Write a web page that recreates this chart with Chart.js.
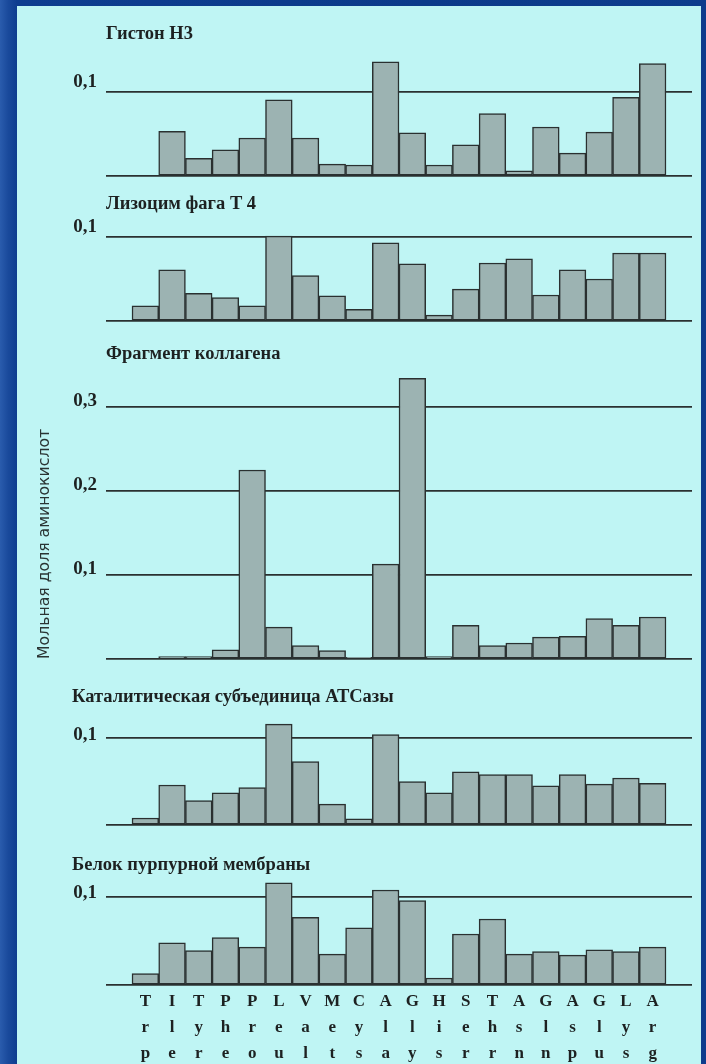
<!DOCTYPE html>
<html lang="ru">
<head>
<meta charset="utf-8">
<title>Аминокислотный состав белков</title>
<script src="https://cdn.jsdelivr.net/npm/chart.js@4.4.1/dist/chart.umd.min.js"></script>
<style>
  html, body { margin: 0; padding: 0; width: 706px; height: 1064px; overflow: hidden; }
  body {
    position: relative;
    background: linear-gradient(90deg, #2a5cad 0px, #1a4a9c 8px, #0e3d8f 17px, #0b3a89 60%, #0d3c8c 100%);
  }
  #sheet { position: absolute; left: 17px; top: 6px; right: 5px; bottom: 0; background: #bff5f4; }
  .panel { position: absolute; left: 0; }
</style>
</head>
<body>
<div id="sheet"></div>
<script>
// Amino acids along the horizontal axis (three-letter codes, drawn one letter per line)
const aminoAcids = ['Trp','Ile','Tyr','Phe','Pro','Leu','Val','Met','Cys','Ala',
                    'Gly','His','Ser','Thr','Asn','Gln','Asp','Glu','Lys','Arg'];

// Mole fraction of each amino acid, same order as aminoAcids
const histoneH3        = [0.000,0.053,0.021,0.031,0.045,0.090,0.045,0.014,0.013,0.135,
                          0.051,0.013,0.037,0.074,0.006,0.058,0.027,0.052,0.093,0.133];
const lysozymeT4       = [0.018,0.061,0.033,0.028,0.018,0.101,0.054,0.030,0.014,0.093,
                          0.068,0.007,0.038,0.069,0.074,0.031,0.061,0.050,0.081,0.081];
const collagenFragment = [0.000,0.003,0.003,0.011,0.225,0.038,0.016,0.010,0.002,0.113,
                          0.334,0.003,0.040,0.016,0.019,0.026,0.027,0.048,0.040,0.050];
const atcaseCatalytic  = [0.008,0.046,0.028,0.037,0.043,0.116,0.073,0.024,0.007,0.104,
                          0.050,0.037,0.061,0.058,0.058,0.045,0.058,0.047,0.054,0.048];
const purpleMembrane   = [0.013,0.048,0.039,0.054,0.043,0.116,0.077,0.035,0.065,0.108,
                          0.096,0.008,0.058,0.075,0.035,0.038,0.034,0.040,0.038,0.043];

// Gridline values on the vertical axis
const yTickValues = [0, 0.1, 0.2, 0.3];

// Panel text and placement
const panels = [
  { title: 'Гистон Н3',                          data: histoneH3,        titleY: 34,  baseline: 176, pxPerUnit: 845, fullTitle: false, padLeft: 30, labelOffset: -9 },
  { title: 'Лизоцим фага Т 4',                   data: lysozymeT4,       titleY: 204, baseline: 321, pxPerUnit: 840, fullTitle: false, padLeft: 30, labelOffset: -10 },
  { title: 'Фрагмент коллагена',                 data: collagenFragment, titleY: 354, baseline: 659, pxPerUnit: 840, fullTitle: false, padLeft: 30, labelOffset: -6, yTitle: 'Мольная доля аминокислот' },
  { title: 'Каталитическая субъединица АТСазы',  data: atcaseCatalytic,  titleY: 697, baseline: 825, pxPerUnit: 870, fullTitle: true,  padLeft: 72, labelOffset: -3 },
  { title: 'Белок пурпурной мембраны',           data: purpleMembrane,   titleY: 865, baseline: 985, pxPerUnit: 880, fullTitle: true,  padLeft: 72, labelOffset: -4, xLabels: true }
];

const INK = '#1d2121';
const LINE = '#2a3030';
const BAR_FILL = '#9cb3b2';
const PLOT_LEFT = 106, PLOT_RIGHT = 692, WIDTH = 706;
const X_MIN = -1.474, X_MAX = 20.474;
const TITLE_SIZE = 18.5, TITLE_LH = TITLE_SIZE * 1.2, TITLE_GAP = 4;
const PAD_BOTTOM = 4, X_AXIS_H = 80;

panels.forEach(p => {
  const top = Math.round(p.titleY - TITLE_LH / 2);
  const chartTop = top + TITLE_LH + TITLE_GAP;
  const yMax = (p.baseline - chartTop) / p.pxPerUnit;
  const height = p.baseline - top + PAD_BOTTOM + (p.xLabels ? X_AXIS_H : 0);

  const wrap = document.createElement('div');
  wrap.className = 'panel';
  wrap.style.top = top + 'px';
  const canvas = document.createElement('canvas');
  canvas.width = WIDTH; canvas.height = height;
  canvas.style.width = WIDTH + 'px'; canvas.style.height = height + 'px';
  wrap.appendChild(canvas);
  document.body.appendChild(wrap);

  new Chart(canvas, {
    type: 'bar',
    data: {
      datasets: [{
        data: p.data.map((v, i) => ({ x: i, y: v })),
        backgroundColor: BAR_FILL,
        borderColor: LINE,
        borderWidth: 1.5,
        borderSkipped: false,
        barPercentage: 1,
        categoryPercentage: 1
      }]
    },
    options: {
      responsive: false,
      devicePixelRatio: 1,
      animation: false,
      layout: { padding: { left: p.padLeft, right: WIDTH - PLOT_RIGHT, top: 0, bottom: PAD_BOTTOM } },
      plugins: {
        legend: { display: false },
        tooltip: { enabled: false },
        title: {
          display: true,
          text: p.title,
          align: 'start',
          fullSize: p.fullTitle,
          color: INK,
          font: { family: 'Liberation Serif', weight: 'bold', size: TITLE_SIZE },
          padding: { top: 0, bottom: TITLE_GAP }
        }
      },
      scales: {
        x: {
          type: 'linear',
          bounds: 'data',
          offset: false,
          display: !!p.xLabels,
          min: X_MIN, max: X_MAX,
          afterBuildTicks: s => { s.ticks = aminoAcids.map((_, i) => ({ value: i })); },
          afterFit: s => {
            if (p.xLabels) s.height = X_AXIS_H;
            s.paddingLeft = 0; s.paddingRight = 0;
          },
          grid: { display: false, offset: false },
          border: { display: false },
          ticks: {
            autoSkip: false, maxRotation: 0, minRotation: 0, padding: -5,
            color: INK,
            font: { family: 'Liberation Serif', weight: 'bold', size: 17, lineHeight: 1.55 },
            callback: v => aminoAcids[v] ? aminoAcids[v].split('') : ''
          }
        },
        y: {
          bounds: 'data',
          min: 0, max: yMax,
          afterBuildTicks: s => { s.ticks = yTickValues.filter(v => v <= yMax).map(v => ({ value: v })); },
          afterFit: s => { s.width = PLOT_LEFT - p.padLeft; s.paddingTop = 0; s.paddingBottom = 0; },
          border: { display: false },
          grid: { color: LINE, lineWidth: 1.8, drawTicks: false },
          ticks: {
            padding: 9,
            labelOffset: p.labelOffset,
            color: INK,
            font: { family: 'Liberation Serif', weight: 'bold', size: 19 },
            callback: v => v === 0 ? '' : v.toFixed(1).replace('.', ',')
          },
          title: {
            display: !!p.yTitle,
            text: p.yTitle || '',
            align: 'start',
            color: '#2a3433',
            font: { family: 'DejaVu Sans', size: 15.7 },
            padding: { top: 6, bottom: 0 }
          }
        }
      }
    }
  });
});
</script>
</body>
</html>
